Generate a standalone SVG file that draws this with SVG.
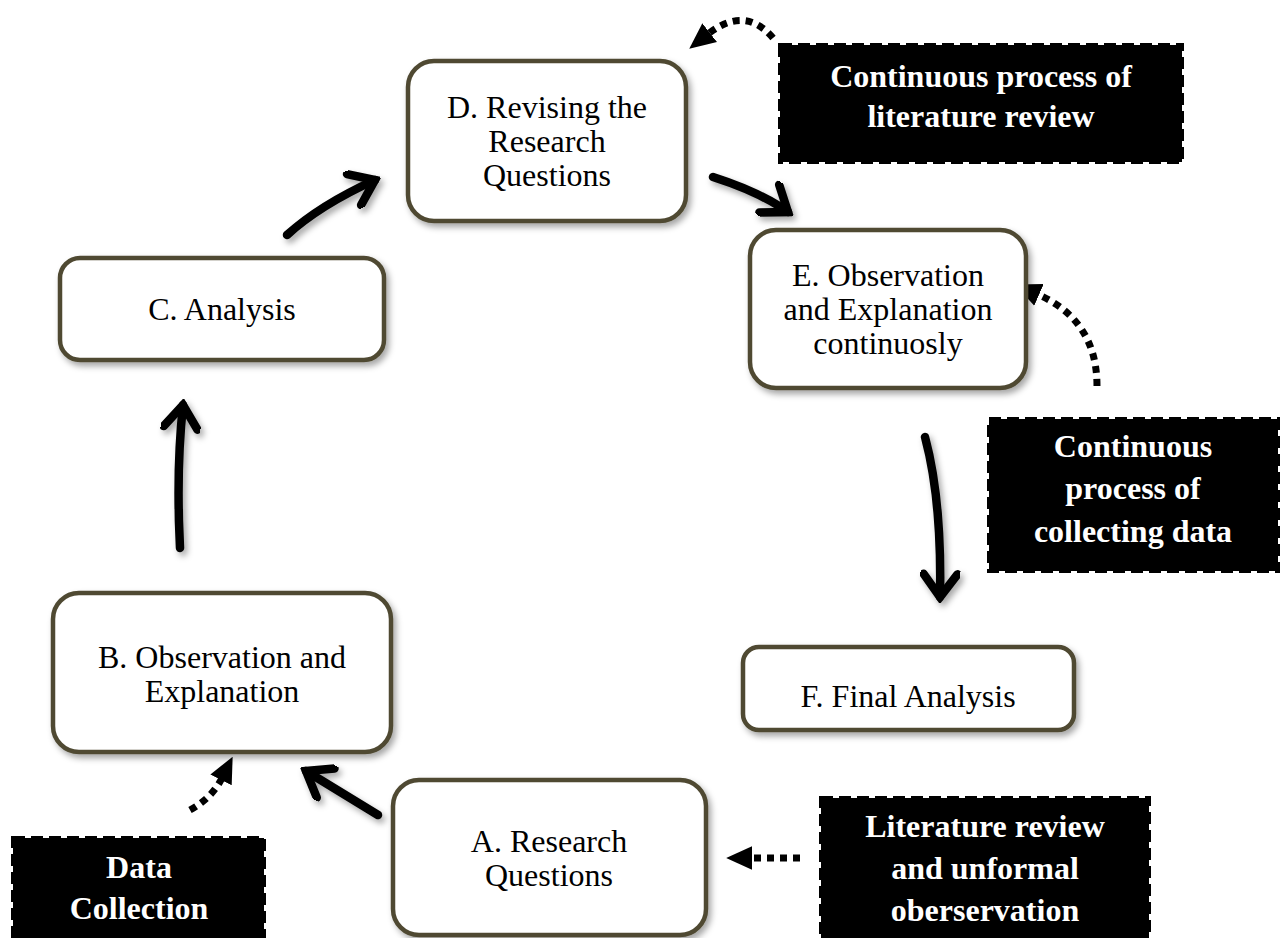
<svg xmlns="http://www.w3.org/2000/svg" width="1285" height="938" viewBox="0 0 1285 938">
<defs>
<filter id="sh" filterUnits="userSpaceOnUse" x="0" y="0" width="1285" height="938">
<feDropShadow dx="3" dy="4" stdDeviation="3" flood-color="#000" flood-opacity="0.35"/>
</filter>
<marker id="vhead" viewBox="0 0 40 40" refX="34" refY="20" markerWidth="40" markerHeight="40" markerUnits="userSpaceOnUse" orient="auto">
<path d="M11,3 L34,20 L11,37" fill="none" stroke="#000" stroke-width="8.5" stroke-linecap="round" stroke-linejoin="miter"/>
</marker>
<marker id="thead" viewBox="0 0 24 24" refX="2" refY="12" markerWidth="26" markerHeight="26" markerUnits="userSpaceOnUse" orient="auto">
<path d="M0,1 L24,12 L0,23 z" fill="#000"/>
</marker>
<style>
.node{fill:#fff;stroke:#4f4a33;stroke-width:4.5;filter:url(#sh)}
.ntx{font-family:"Liberation Serif","Times New Roman",serif;font-size:32px;fill:#000;text-anchor:middle}
.box{fill:#000;stroke:#000;stroke-width:4;stroke-dasharray:12 6}
.btx{font-family:"Liberation Serif","Times New Roman",serif;font-size:32px;font-weight:bold;fill:#fff;text-anchor:middle}
.solid{fill:none;stroke:#000;stroke-width:8.5;stroke-linecap:round;marker-end:url(#vhead)}
.dot{fill:none;stroke:#000;stroke-width:7;stroke-dasharray:7 6;marker-end:url(#thead)}
</style>
</defs>
<rect width="1285" height="938" fill="#fff"/>

<g id="connectors">
<g filter="url(#sh)">
<path class="solid" d="M287,235 Q320,205 375,180"/>
<path class="solid" d="M713,177 Q760,192 788,212"/>
<path class="solid" d="M925,437 Q942,500 940,597"/>
<path class="solid" d="M180,548 Q176,470 183,405"/>
<path class="solid" d="M378,815 L306,771"/>
</g>
<path class="dot" d="M773,38 Q745,5 708,34"/>
<path class="dot" d="M1097,386 Q1097,320 1037,294"/>
<path class="dot" d="M800,858 L750,858"/>
<path class="dot" d="M190,810 Q212,798 222,778"/>
</g>

<g id="nodeD">
<rect class="node" x="408" y="61" width="278" height="160" rx="26"/>
<text class="ntx" x="547" y="118">D. Revising the</text>
<text class="ntx" x="547" y="152">Research</text>
<text class="ntx" x="547" y="186">Questions</text>
</g>
<g id="nodeC">
<rect class="node" x="60" y="258" width="324" height="102" rx="20"/>
<text class="ntx" x="222" y="320">C. Analysis</text>
</g>
<g id="nodeE">
<rect class="node" x="750" y="230" width="276" height="158" rx="26"/>
<text class="ntx" x="888" y="286">E. Observation</text>
<text class="ntx" x="888" y="320">and Explanation</text>
<text class="ntx" x="888" y="354">continuosly</text>
</g>
<g id="nodeB">
<rect class="node" x="53" y="593" width="338" height="159" rx="26"/>
<text class="ntx" x="222" y="668">B. Observation and</text>
<text class="ntx" x="222" y="702">Explanation</text>
</g>
<g id="nodeF">
<rect class="node" x="743" y="647" width="331" height="83" rx="16"/>
<text class="ntx" x="908" y="707">F. Final Analysis</text>
</g>
<g id="nodeA">
<rect class="node" x="393" y="780" width="313" height="155" rx="26"/>
<text class="ntx" x="549" y="852">A. Research</text>
<text class="ntx" x="549" y="886">Questions</text>
</g>

<g id="boxLitTop">
<rect class="box" x="780" y="45" width="402" height="117"/>
<text class="btx" x="981" y="87">Continuous process of</text>
<text class="btx" x="981" y="127">literature review</text>
</g>
<g id="boxCollect">
<rect class="box" x="989" y="419" width="289" height="152"/>
<text class="btx" x="1133" y="457">Continuous</text>
<text class="btx" x="1133" y="499">process of</text>
<text class="btx" x="1133" y="542">collecting data</text>
</g>
<g id="boxLitBottom">
<rect class="box" x="821" y="798" width="328" height="145"/>
<text class="btx" x="985" y="837">Literature review</text>
<text class="btx" x="985" y="879">and unformal</text>
<text class="btx" x="985" y="921">oberservation</text>
</g>
<g id="boxData">
<rect class="box" x="13" y="838" width="251" height="105"/>
<text class="btx" x="139" y="878">Data</text>
<text class="btx" x="139" y="919">Collection</text>
</g>
</svg>
